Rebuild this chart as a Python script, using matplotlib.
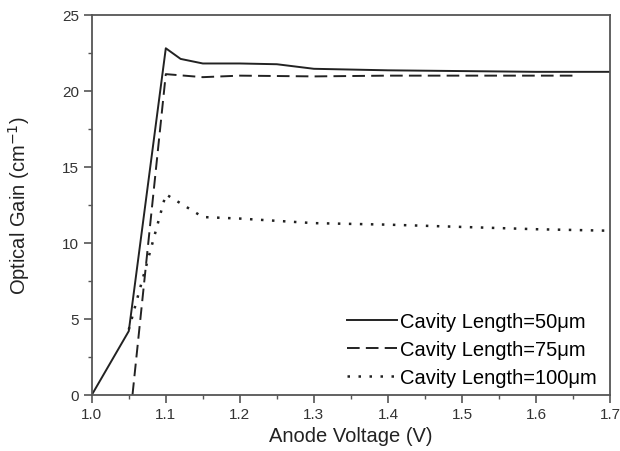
import numpy as np
import matplotlib
matplotlib.use('Agg')
import matplotlib.pyplot as plt
from matplotlib.ticker import MultipleLocator

plt.rcParams['font.family'] = ['Liberation Sans', 'DejaVu Sans']

# data
v_50 = [1.0, 1.05, 1.1, 1.12, 1.15, 1.2, 1.25, 1.3, 1.35, 1.4, 1.5, 1.6, 1.7]
g_50 = [0.0, 4.2, 22.8, 22.1, 21.8, 21.8, 21.75, 21.45, 21.4, 21.35, 21.3, 21.25, 21.25]

v_75 = [1.055, 1.1, 1.15, 1.2, 1.3, 1.4, 1.5, 1.6, 1.65]
g_75 = [0.0, 21.1, 20.9, 21.0, 20.95, 21.0, 21.0, 21.0, 21.0]

v_100 = [1.05, 1.1, 1.13, 1.15, 1.2, 1.3, 1.4, 1.5, 1.6, 1.7]
g_100 = [4.3, 13.2, 12.3, 11.7, 11.6, 11.3, 11.2, 11.05, 10.9, 10.8]

labels = ['Cavity Length=50\u03bcm', 'Cavity Length=75\u03bcm', 'Cavity Length=100\u03bcm']

fig = plt.figure(figsize=(6.2, 4.52), dpi=100)
ax = fig.add_axes([0.148, 0.124, 0.836, 0.841])

lc = '#222222'
ax.plot(v_50, g_50, color=lc, lw=1.4, ls='-', label=labels[0])
ax.plot(v_75, g_75, color=lc, lw=1.4, ls=(0, (6.5, 3.2)), label=labels[1])
ax.plot(v_100, g_100, color=lc, lw=1.8, ls=(0, (1, 3.4)), label=labels[2])

ax.set_xlim(1.0, 1.7)
ax.set_ylim(0, 25)
ax.xaxis.set_major_locator(MultipleLocator(0.1))
ax.xaxis.set_minor_locator(MultipleLocator(0.05))
ax.yaxis.set_major_locator(MultipleLocator(5))
ax.yaxis.set_minor_locator(MultipleLocator(2.5))
ax.xaxis.set_major_formatter(plt.FormatStrFormatter('%.1f'))
ax.tick_params(which='major', direction='out', length=6, width=1.2, labelsize=11,
               colors='#555555', labelcolor='#333333', pad=3)
ax.tick_params(which='minor', direction='out', length=3, width=1.0, colors='#555555')
for s in ax.spines.values():
    s.set_color('#555555')
    s.set_linewidth(1.3)

ax.set_xlabel('Anode Voltage (V)', fontsize=14.5, color='#222222', labelpad=3)
ax.set_ylabel('Optical Gain (cm$^{-1}$)', fontsize=14.5, color='#222222', labelpad=22)

ax.legend(loc='lower right', bbox_to_anchor=(0.99, 0.0), frameon=False, fontsize=14.5,
          handlelength=2.5, handletextpad=0.15, labelspacing=0.45, borderaxespad=0.0)

fig.savefig('out.png', dpi=100)
